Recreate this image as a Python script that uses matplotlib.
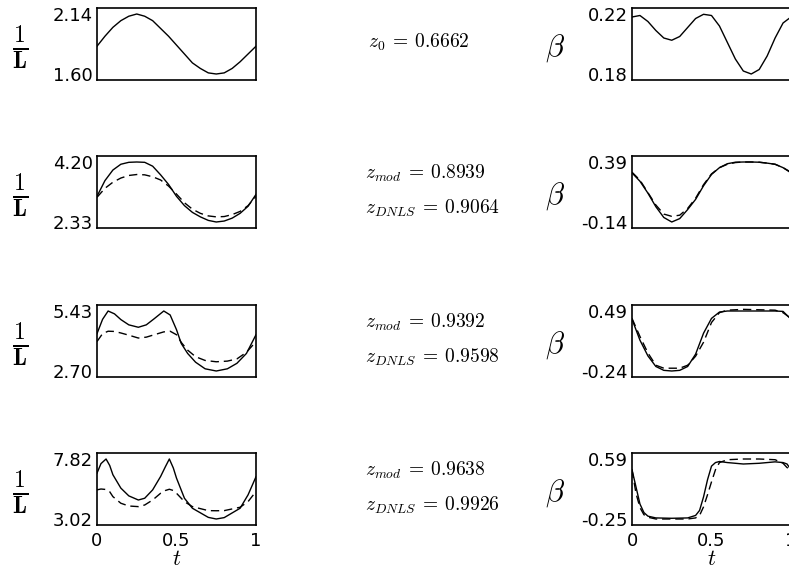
import numpy as np
import matplotlib
matplotlib.use("Agg")
from matplotlib import pyplot as plt

plt.rcParams['mathtext.fontset'] = 'cm'
plt.rcParams['font.family'] = ['DejaVu Sans']

# time grids
t1 = [0, .05, .1, .15, .2, .25, .3, .35, .4, .45, .5, .55, .6, .65, .7, .75, .8, .85, .9, .95, 1]
t3l = [0, .035, .07, .11, .15, .2, .26, .31, .36, .42, .46, .5, .53, .57, .62, .68, .75, .82, .88, .94, 1]
t3b = [0, .05, .1, .15, .2, .25, .3, .35, .4, .45, .5, .55, .6, .7, .8, .9, .95, 1]
t4l = [0, .025, .057, .08, .1, .15, .2, .26, .3, .35, .4, .43, .455, .48, .5, .55, .6, .7, .75, .8, .9, .95, 1]
t4b = [0, .025, .05, .075, .1, .15, .25, .35, .4, .425, .45, .475, .5, .525, .55, .6, .7, .8, .9, .95, .975, 1]

# row 1: 1/L and beta (model only)
L1 = [1.85, 1.94, 2.02, 2.08, 2.12, 2.14, 2.12, 2.08, 2.01, 1.94, 1.86, 1.78, 1.70, 1.65, 1.61, 1.60, 1.61, 1.65, 1.71, 1.78, 1.85]
B1 = [0.218, 0.219, 0.215, 0.209, 0.204, 0.2025, 0.205, 0.211, 0.217, 0.2198, 0.219, 0.212, 0.201, 0.19, 0.182, 0.18, 0.183, 0.192, 0.204, 0.214, 0.218]

# row 2
L2_mod = [3.13, 3.62, 3.95, 4.13, 4.19, 4.20, 4.19, 4.07, 3.80, 3.50, 3.13, 2.84, 2.63, 2.49, 2.38, 2.33, 2.36, 2.45, 2.60, 2.82, 3.19]
L2_dnls = [3.10, 3.38, 3.57, 3.70, 3.78, 3.81, 3.80, 3.74, 3.64, 3.45, 3.20, 2.93, 2.73, 2.60, 2.52, 2.49, 2.50, 2.56, 2.66, 2.84, 3.13]
B2_mod = [0.294, 0.22, 0.115, -0.005, -0.10, -0.14, -0.11, -0.03, 0.06, 0.18, 0.28, 0.34, 0.375, 0.388, 0.39, 0.39, 0.388, 0.38, 0.37, 0.34, 0.294]
B2_dnls = [0.30, 0.23, 0.12, 0.01, -0.07, -0.09, -0.08, -0.02, 0.07, 0.19, 0.285, 0.34, 0.37, 0.385, 0.39, 0.39, 0.388, 0.38, 0.37, 0.34, 0.30]

# row 3
L3_mod = [4.40, 5.05, 5.43, 5.30, 5.04, 4.80, 4.69, 4.80, 5.08, 5.43, 5.25, 4.58, 3.95, 3.50, 3.10, 2.80, 2.70, 2.80, 3.05, 3.50, 4.35]
L3_dnls = [4.04, 4.40, 4.51, 4.50, 4.43, 4.33, 4.20, 4.24, 4.35, 4.48, 4.51, 4.35, 4.00, 3.65, 3.35, 3.18, 3.12, 3.15, 3.25, 3.55, 4.04]
B3_mod = [0.39, 0.135, -0.056, -0.185, -0.232, -0.24, -0.232, -0.185, -0.035, 0.22, 0.40, 0.477, 0.49, 0.49, 0.49, 0.49, 0.485, 0.39]
B3_dnls = [0.40, 0.18, -0.02, -0.17, -0.206, -0.206, -0.206, -0.17, -0.06, 0.11, 0.35, 0.47, 0.50, 0.51, 0.505, 0.50, 0.47, 0.40]

# row 4
L4_mod = [6.69, 7.45, 7.82, 7.30, 6.56, 5.49, 4.87, 4.54, 4.68, 5.35, 6.42, 7.20, 7.82, 7.10, 6.29, 4.68, 3.88, 3.15, 3.02, 3.13, 3.88, 4.95, 6.40]
L4_dnls = [5.35, 5.42, 5.38, 5.20, 4.81, 4.28, 4.06, 4.01, 4.14, 4.54, 5.08, 5.30, 5.40, 5.30, 5.08, 4.41, 4.01, 3.69, 3.68, 3.69, 3.96, 4.41, 5.22]
B4_mod = [0.44, 0.20, -0.04, -0.16, -0.21, -0.235, -0.24, -0.235, -0.20, -0.13, 0.06, 0.30, 0.49, 0.54, 0.555, 0.54, 0.52, 0.53, 0.55, 0.54, 0.52, 0.44]
B4_dnls = [0.44, 0.11, -0.09, -0.19, -0.225, -0.25, -0.25, -0.25, -0.235, -0.20, -0.08, 0.09, 0.27, 0.44, 0.54, 0.58, 0.59, 0.59, 0.58, 0.53, 0.47, 0.44]

l_ticks = [(1.60, 2.14), (2.33, 4.20), (2.70, 5.43), (3.02, 7.82)]
b_ticks = [(0.18, 0.22), (-0.14, 0.39), (-0.24, 0.49), (-0.25, 0.59)]
l_tick_labels = [("1.60", "2.14"), ("2.33", "4.20"), ("2.70", "5.43"), ("3.02", "7.82")]
b_tick_labels = [("0.18", "0.22"), ("-0.14", "0.39"), ("-0.24", "0.49"), ("-0.25", "0.59")]

z_texts = [[r"$z_0\:=\:0.6662$"],
           [r"$z_{mod}\:=\:0.8939$", r"$z_{DNLS}\:=\:0.9064$"],
           [r"$z_{mod}\:=\:0.9392$", r"$z_{DNLS}\:=\:0.9598$"],
           [r"$z_{mod}\:=\:0.9638$", r"$z_{DNLS}\:=\:0.9926$"]]

rows = [
    (t1, L1, None, t1, B1, None),
    (t1, L2_mod, L2_dnls, t1, B2_mod, B2_dnls),
    (t3l, L3_mod, L3_dnls, t3b, B3_mod, B3_dnls),
    (t4l, L4_mod, L4_dnls, t4b, B4_mod, B4_dnls),
]

W, H = 789, 575
fig = plt.figure(figsize=(W / 100, H / 100), dpi=100)

row_top = [8, 156, 305, 453]
ax_h = 72
left_x, right_x, ax_w = 97, 632, 159


def setup(ax, ticks, labels, bottom):
    lo, hi = ticks
    pad = 0.1 * (hi - lo)
    ax.set_ylim(lo - pad, hi + pad)
    ax.set_xlim(0, 1)
    ax.set_yticks([lo, hi])
    ax.set_yticklabels(labels)
    ax.tick_params(axis='y', length=0, pad=3, labelsize=13)
    if bottom:
        ax.set_xticks([0, 0.5, 1])
        ax.set_xticklabels(["0", "0.5", "1"])
        ax.tick_params(axis='x', length=0, pad=5, labelsize=13)
        ax.set_xlabel(r"$t$", fontsize=16, labelpad=-1)
    else:
        ax.set_xticks([])
    for s in ax.spines.values():
        s.set_linewidth(1.2)


for i, (tl, lm, ld, tb, bm, bd) in enumerate(rows):
    y0 = 1 - (row_top[i] + ax_h) / H
    axl = fig.add_axes([left_x / W, y0, ax_w / W, ax_h / H])
    axb = fig.add_axes([right_x / W, y0, ax_w / W, ax_h / H])
    axl.plot(tl, lm, color='k', lw=1.0)
    axb.plot(tb, bm, color='k', lw=1.0)
    if ld is not None:
        axl.plot(tl, ld, color='k', lw=1.0, dashes=(6, 3.5))
        axb.plot(tb, bd, color='k', lw=1.0, dashes=(6, 3.5))
    bottom = i == 3
    setup(axl, l_ticks[i], l_tick_labels[i], bottom)
    setup(axb, b_ticks[i], b_tick_labels[i], bottom)

    yc = 1 - (row_top[i] + ax_h / 2 + 4) / H
    fig.text(20 / W, yc, r"$\mathbf{\frac{1}{L}}$", fontsize=24, ha='center', va='center')
    fig.text(555 / W, yc, r"$\beta$", fontsize=22, ha='center', va='center')

    if len(z_texts[i]) == 1:
        fig.text(368 / W, 1 - 42 / H, z_texts[i][0], fontsize=14, va='center')
    else:
        fig.text(365 / W, 1 - (row_top[i] + 17) / H, z_texts[i][0], fontsize=14, va='center')
        fig.text(365 / W, 1 - (row_top[i] + 52) / H, z_texts[i][1], fontsize=14, va='center')

fig.savefig("out.png", dpi=100)
